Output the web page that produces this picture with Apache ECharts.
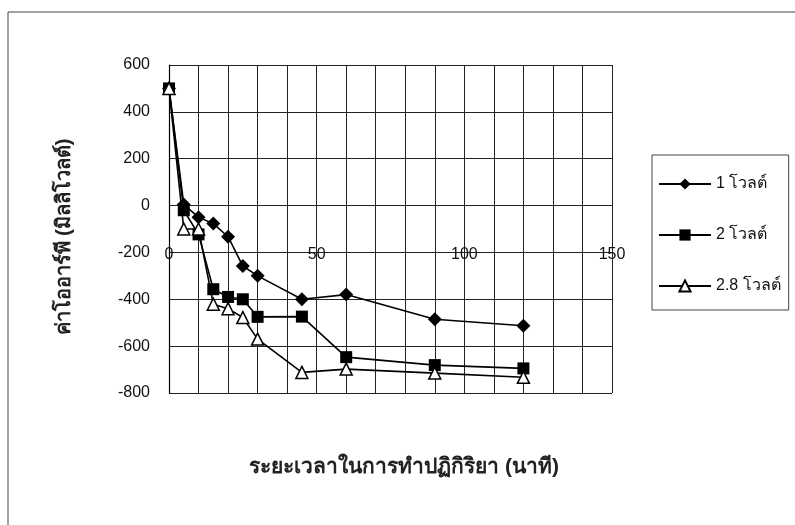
<!DOCTYPE html>
<html>
<head>
<meta charset="utf-8">
<script src="https://cdn.jsdelivr.net/npm/echarts@6/dist/echarts.min.js"></script>
<style>
  html, body { margin: 0; padding: 0; background: #fff; }
  #chart { width: 795px; height: 525px; }
</style>
</head>
<body>
<div id="chart"></div>
<script>
// time (minutes) and potential (mV)
const times = [0, 5, 10, 15, 20, 25, 30, 45, 60, 90, 120]
const volt1 = [500, 5, -50, -77, -133, -258, -300, -400, -380, -485, -513]
const volt2 = [500, -20, -123, -357, -390, -400, -475, -474, -647, -681, -695]
const volt28 = [500, -100, -100, -421, -440, -478, -570, -712, -698, -715, -733]
const seriesNames = ['1 โวลต์', '2 โวลต์', '2.8 โวลต์']

const fontFamily = 'Liberation Sans, Arial, sans-serif'

function pairs(ys) {
  return times.map((t, i) => [t, ys[i]])
}

const chart = echarts.init(document.getElementById('chart'))

const lineStyle = { color: '#000', width: 1.6 }

chart.setOption({
  animation: false,
  backgroundColor: '#fff',
  textStyle: { fontFamily: fontFamily, color: '#000' },
  grid: { left: 169, top: 65, width: 443, height: 328, containLabel: false },
  graphic: [
    {
      type: 'rect',
      shape: { x: 8, y: 12, width: 900, height: 700 },
      style: { fill: 'none', stroke: '#444', lineWidth: 1 },
      silent: true
    },
    {
      type: 'text',
      x: 64,
      y: 237,
      rotation: Math.PI / 2,
      style: {
        text: 'ค่าโออาร์พี (มิลลิโวลต์)',
        font: 'bold 20px ' + fontFamily,
        fill: '#222',
        align: 'center',
        verticalAlign: 'middle'
      }
    },
    {
      type: 'text',
      x: 404,
      y: 467,
      style: {
        text: 'ระยะเวลาในการทำปฏิกิริยา (นาที)',
        font: 'bold 21px ' + fontFamily,
        fill: '#222',
        align: 'center',
        verticalAlign: 'middle'
      }
    }
  ],
  legend: {
    orient: 'vertical',
    left: 652,
    top: 155,
    padding: [21, 8, 16, 6],
    itemGap: 35,
    itemWidth: 52,
    itemHeight: 14,
    borderColor: '#444',
    borderWidth: 1,
    textStyle: { fontSize: 16, color: '#111', fontFamily: fontFamily },
    data: seriesNames
  },
  xAxis: {
    type: 'value',
    min: 0,
    max: 150,
    interval: 50,
    offset: -187,
    axisLine: { show: false, onZero: false },
    axisTick: { show: false },
    minorTick: { show: false, splitNumber: 5 },
    splitLine: { show: true, lineStyle: { color: '#222', width: 1 } },
    minorSplitLine: { show: true, lineStyle: { color: '#222', width: 1 } },
    axisLabel: { margin: 41, fontSize: 16, color: '#111' }
  },
  yAxis: {
    type: 'value',
    min: -800,
    max: 600,
    interval: 200,
    axisLine: { show: true, lineStyle: { color: '#000', width: 1.2 } },
    axisTick: { show: false },
    splitLine: { show: true, lineStyle: { color: '#222', width: 1 } },
    axisLabel: { margin: 19, fontSize: 16, color: '#111' }
  },
  series: [
    {
      name: seriesNames[0],
      type: 'line',
      data: pairs(volt1),
      symbol: 'diamond',
      symbolSize: 14,
      lineStyle: lineStyle,
      itemStyle: { color: '#000' }
    },
    {
      name: seriesNames[1],
      type: 'line',
      data: pairs(volt2),
      symbol: 'rect',
      symbolSize: 12,
      lineStyle: lineStyle,
      itemStyle: { color: '#000' }
    },
    {
      name: seriesNames[2],
      type: 'line',
      data: pairs(volt28),
      symbol: 'triangle',
      symbolSize: 12,
      lineStyle: lineStyle,
      itemStyle: { color: '#fff', borderColor: '#000', borderWidth: 1.5 }
    }
  ]
})
</script>
</body>
</html>
